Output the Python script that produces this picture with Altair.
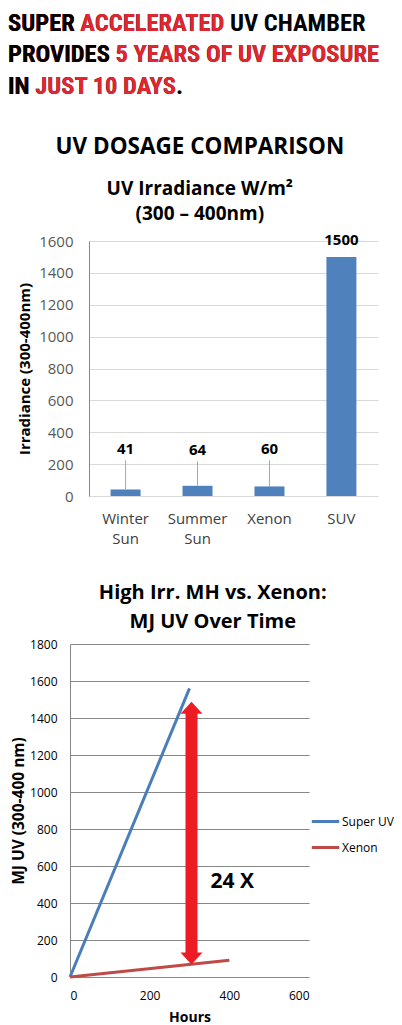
import altair as alt
import pandas as pd

# ---------------- data ----------------
header_parts = [
    ("SUPER ", "ACCELERATED", " UV CHAMBER"),
    ("PROVIDES ", "5 YEARS OF UV EXPOSURE", ""),
    ("IN ", "JUST 10 DAYS", "."),
]
section_title = "UV DOSAGE COMPARISON"
bar_title = ["UV Irradiance W/m²", "(300 – 400nm)"]

sources = ["Winter Sun", "Summer Sun", "Xenon", "SUV"]
irradiance = [41, 64, 60, 1500]
label_y = [297, 291, 297, 1606]
leader_top = [224, 217, 224, None]
bar_ticks = [0, 200, 400, 600, 800, 1000, 1200, 1400, 1600]

line_title = ["High Irr. MH vs. Xenon:", "MJ UV Over Time"]
series_names = ["Super UV", "Xenon"]
super_hours = [0, 300]
super_mj = [0, 1560]
xenon_hours = [0, 400]
xenon_mj = [0, 90]
line_x_ticks = [0, 200, 400, 600]
line_y_ticks = [0, 200, 400, 600, 800, 1000, 1200, 1400, 1600, 1800]

arrow_hours = [305]
arrow_tip_top = [1488]
arrow_tip_bottom = [67]
arrow_shaft = [128, 1428]
ratio_label = ["24 X"]
ratio_pos = [353, 511]

# ---------------- styles ----------------
RED = "#E3262E"
BLACK = "#000000"
BLUE = "#4A7EBB"
XRED = "#BE4B48"
HEAD_FONT = "Liberation Sans Narrow, Roboto Condensed, DejaVu Sans Condensed, sans-serif"
FONT = "Open Sans"
LEFT = 62  # shared origin of all panels (px from the left edge)

# ---------------- header ----------------
head_layers = []
for i, (a, b, c) in enumerate(header_parts):
    yb = 22.5 + 31.5 * i
    for txt, col in [(a + b + c, BLACK), (a + b, RED), (a.strip(), BLACK)]:
        head_layers.append(
            alt.Chart(pd.DataFrame({"t": [txt]}))
            .mark_text(align="left", baseline="alphabetic", font=HEAD_FONT,
                       fontSize=24.5, fontWeight="bold", color=col)
            .encode(x=alt.value(-LEFT), y=alt.value(yb), text="t:N")
        )
header = alt.layer(*head_layers).properties(width=312, height=89)

# ---------------- bar chart ----------------
bar_df = pd.DataFrame({"source": sources, "irr": irradiance,
                       "label_y": label_y, "leader_top": leader_top})
xscale = alt.Scale(range=[19, 308], paddingInner=0.583, paddingOuter=0.3)
xenc = alt.X("source:N", sort=sources, scale=xscale,
             axis=alt.Axis(title=None, labelAngle=0, domain=False, ticks=False,
                           labelExpr="split(datum.label, ' ')", labelFont=FONT,
                           labelFontSize=15, labelColor="#404040",
                           labelLineHeight=20, labelPadding=15))
yscale = alt.Scale(domain=[0, 1600])
base = alt.Chart(bar_df)
bars = base.mark_bar(color="#4F81BD").encode(
    x=xenc,
    y=alt.Y("irr:Q", scale=yscale,
            axis=alt.Axis(values=bar_ticks, tickCount=20, format="d",
                          labelOverlap=False, offset=-19,
                          title="Irradiance (300-400nm)",
                          titleFont=FONT, titleFontSize=15, titleFontWeight="bold",
                          titleColor="black", titlePadding=6,
                          labelFont=FONT, labelFontSize=15, labelColor="#595959",
                          labelPadding=16, ticks=False, domainColor="#5B8FD9",
                          gridColor="#D9D9D9")),
)
leaders = base.transform_filter("isValid(datum.leader_top)").mark_rule(
    color="#A6A6A6", strokeWidth=1).encode(
    x=alt.X("source:N", sort=sources), y="irr:Q", y2="leader_top:Q")
labels = base.mark_text(fontWeight="bold", fontSize=15, font=FONT,
                        baseline="middle", color="black").encode(
    x=alt.X("source:N", sort=sources), y="label_y:Q", text="irr:Q")

bar_chart = alt.layer(bars, leaders, labels).properties(
    width=308, height=255,
    title=alt.TitleParams(text=section_title, subtitle=bar_title,
                          font=FONT, fontSize=22.5, fontWeight="bold", color="black",
                          subtitleFont=FONT, subtitleFontSize=19,
                          subtitleFontWeight="bold", subtitleColor="black",
                          subtitleLineHeight=25, subtitlePadding=22,
                          anchor="middle", frame="bounds", offset=9, dx=2),
)

# ---------------- line chart ----------------
line_df = pd.DataFrame({
    "hours": super_hours + xenon_hours,
    "mj": super_mj + xenon_mj,
    "series": [series_names[0]] * len(super_hours) + [series_names[1]] * len(xenon_hours),
})
xs = alt.Scale(domain=[0, 600])
ys = alt.Scale(domain=[0, 1800])
lines = alt.Chart(line_df).mark_line(strokeWidth=3).encode(
    x=alt.X("hours:Q", scale=xs,
            axis=alt.Axis(values=line_x_ticks, tickCount=20, format="d",
                          labelOverlap=False, title="Hours", grid=False,
                          domain=False, ticks=False, labelFont=FONT,
                          labelFontSize=12, labelColor="black", labelPadding=13,
                          titleFont=FONT, titleFontSize=14, titleFontWeight="bold",
                          titleColor="black", titlePadding=9)),
    y=alt.Y("mj:Q", scale=ys,
            axis=alt.Axis(values=line_y_ticks, tickCount=20, format="d",
                          labelOverlap=False, title="MJ UV (300-400 nm)",
                          labelFont=FONT, labelFontSize=12, labelColor="black",
                          labelPadding=13, ticks=False, domainColor="#878787",
                          gridColor="#878787", titleFont=FONT, titleFontSize=15.5,
                          titleFontWeight="bold", titleColor="black",
                          titlePadding=3)),
    color=alt.Color("series:N", scale=alt.Scale(domain=series_names, range=[BLUE, XRED]),
                    legend=alt.Legend(title=None, orient="none", legendX=240,
                                      legendY=162, symbolType="stroke",
                                      symbolStrokeWidth=3, symbolSize=750,
                                      labelFont=FONT, labelFontSize=12,
                                      labelColor="black", labelOffset=1,
                                      rowPadding=4, padding=0)),
)
arrow_df = pd.DataFrame({"h": arrow_hours, "top": arrow_tip_top,
                         "bottom": arrow_tip_bottom,
                         "s0": [arrow_shaft[0]], "s1": [arrow_shaft[1]]})
shaft = alt.Chart(arrow_df).mark_rule(color="#ED1C24", strokeWidth=12).encode(
    x=alt.X("h:Q", scale=xs), y=alt.Y("s0:Q", scale=ys), y2="s1:Q")
head_up = alt.Chart(arrow_df).mark_point(
    shape="M0,0L1,1.1L-1,1.1Z", filled=True, size=484, opacity=1,
    color="#ED1C24").encode(x=alt.X("h:Q", scale=xs), y=alt.Y("top:Q", scale=ys))
head_down = alt.Chart(arrow_df).mark_point(
    shape="M0,0L1,-1.1L-1,-1.1Z", filled=True, size=484, opacity=1,
    color="#ED1C24").encode(x=alt.X("h:Q", scale=xs), y=alt.Y("bottom:Q", scale=ys))
ratio_df = pd.DataFrame({"t": ratio_label, "x": [ratio_pos[0]], "y": [ratio_pos[1]]})
ratio = alt.Chart(ratio_df).mark_text(align="left", baseline="middle", font=FONT,
                                      fontSize=21, fontWeight="bold",
                                      color="black").encode(
    x=alt.X("x:Q", scale=xs), y=alt.Y("y:Q", scale=ys), text="t:N")

line_chart = alt.layer(lines, shaft, head_up, head_down, ratio).properties(
    width=239, height=333,
    title=alt.TitleParams(text=line_title, font=FONT, fontSize=20,
                          fontWeight="bold", color="black", lineHeight=29,
                          anchor="middle", frame="bounds", offset=6, dx=10),
)

chart = alt.vconcat(header, bar_chart, line_chart, spacing=37).resolve_legend(
    color="independent"
).properties(
    padding={"left": 0, "top": 0, "right": 0, "bottom": 0},
    background="white",
).configure_view(stroke=None)

chart.save("out.html", embed_options={"renderer": "svg", "actions": False})
